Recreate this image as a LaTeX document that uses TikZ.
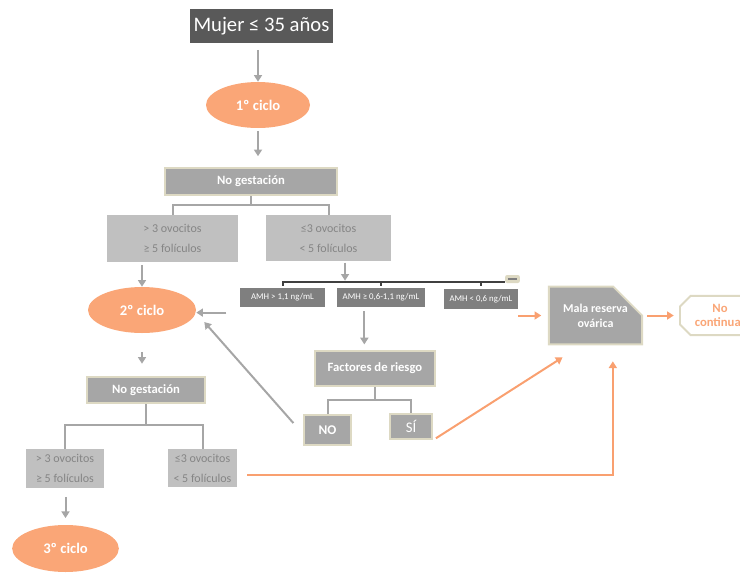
\documentclass[tikz,border=0pt]{standalone}
\usepackage{fontspec}
\setmainfont{Carlito}
\usepackage{tikz}
\usetikzlibrary{arrows.meta,shapes.geometric,shapes.misc,calc}
\definecolor{mujergray}{HTML}{595959}
\definecolor{cicloorange}{HTML}{FAA677}
\definecolor{boxgray}{HTML}{A6A6A6}
\definecolor{tanline}{HTML}{DDD9C3}
\definecolor{lightbox}{HTML}{C0C0C0}
\definecolor{lighttext}{HTML}{858585}
\definecolor{amhgray}{HTML}{7F7F7F}
\definecolor{bargray}{HTML}{404040}
\definecolor{arrowgray}{HTML}{A6A6A6}
\definecolor{orangeline}{HTML}{F9A070}
\tikzset{
  startbox/.style={
    shape = rectangle,
    fill = mujergray,
    text = white,
    inner sep = 0pt,
    font = \fontsize{15.5}{18}\selectfont
  },
  ciclo/.style={
    shape = ellipse,
    fill = cicloorange,
    text = white,
    inner sep = 0pt,
    minimum width = 78pt,
    minimum height = 34.5pt,
    font = \bfseries\fontsize{11}{12}\selectfont
  },
  gestbox/.style={
    shape = rectangle,
    fill = boxgray,
    draw = tanline,
    line width = 1.4pt,
    text = white,
    inner sep = 0pt,
    align = center,
    font = \bfseries\fontsize{9.5}{11}\selectfont
  },
  critbox/.style={
    shape = rectangle,
    fill = lightbox,
    text = lighttext,
    inner sep = 0pt,
    align = center,
    font = \fontsize{9}{15}\selectfont
  },
  amhbox/.style={
    shape = rectangle,
    fill = amhgray,
    text = white,
    inner sep = 0pt,
    font = \fontsize{6.6}{8}\selectfont
  },
  arr/.style={
    draw = arrowgray,
    line width = 1.5pt,
    -{Triangle[width=6pt,length=5pt]}
  },
  oarr/.style={
    draw = orangeline,
    line width = 1.5pt,
    -{Triangle[width=6pt,length=5pt]}
  },
  brace/.style={
    draw = arrowgray,
    line width = 1.5pt
  },
  darkbar/.style={
    draw = bargray,
    line width = 1.5pt
  }
}

\begin{document}
\begin{tikzpicture}[x=0.75pt,y=-0.75pt]
        \useasboundingbox (0,0) rectangle (740,572);

        % first cycle
        \node[startbox, minimum width=107.25pt, minimum height=25.5pt] (mujer) at (261.5,26) {Mujer ≤ 35 años};
        \node[ciclo] (ciclo1) at (258,105) {1º ciclo};
        \node[gestbox, minimum width=129pt, minimum height=20.5pt] (gest1) at (251,181.5) {No gestación};
        \node[critbox, minimum width=98.25pt, minimum height=35.25pt] (alto1) at (172.5,238.5) {> 3 ovocitos\\≥ 5 folículos};
        \node[critbox, minimum width=93.75pt, minimum height=34.5pt] (bajo1) at (328.5,238) {≤3 ovocitos\\< 5 folículos};

        % AMH
        \node[amhbox, minimum width=63.75pt, minimum height=14.25pt] (amh1) at (282.5,297.5) {AMH > 1,1 ng/mL};
        \node[amhbox, minimum width=66pt, minimum height=14.25pt] (amh2) at (381,297.5) {AMH ≥ 0,6-1,1 ng/mL};
        \node[amhbox, minimum width=55.5pt, minimum height=15pt] (amh3) at (481,299) {AMH < 0,6 ng/mL};
        \node[shape=rectangle, rounded corners=1.5pt, fill=tanline, inner sep=0pt, minimum width=11pt, minimum height=6pt] (collapse) at (512.5,279) {};
        \coordinate (barL) at (282,282);

        \node[gestbox, shape=chamfered rectangle, chamfered rectangle corners=north east, chamfered rectangle xsep=13pt, chamfered rectangle ysep=13pt, minimum width=70pt, minimum height=29.5pt, font=\bfseries\fontsize{9}{11}\selectfont] (mala) at (595.5,315.5) {Mala reserva\\ovárica};
        \node[gestbox, fill=white, text=cicloorange, shape=chamfered rectangle, chamfered rectangle corners={north west,south west}, chamfered rectangle xsep=4pt, chamfered rectangle ysep=4pt, minimum width=60pt, minimum height=29.5pt, font=\bfseries\fontsize{9.5}{11}\selectfont] (nocont) at (720,315.5) {No\\continuar};

        \node[gestbox, minimum width=90.5pt, minimum height=26.75pt] (riesgo) at (375,368.5) {Factores de riesgo};
        \node[gestbox, minimum width=35.75pt, minimum height=23pt, font=\bfseries\fontsize{10}{12}\selectfont] (no) at (327.5,430) {NO};
        \node[gestbox, minimum width=32pt, minimum height=19.25pt, font=\fontsize{11}{12}\selectfont] (si) at (411,426.5) {SÍ};

        % second cycle
        \node[ciclo, minimum width=81pt] (ciclo2) at (142,310) {2º ciclo};
        \node[gestbox, minimum width=89pt, minimum height=20pt] (gest2) at (146,390) {No gestación};
        \node[critbox, minimum width=58.5pt, minimum height=29.25pt] (alto2) at (65,468.5) {> 3 ovocitos\\≥ 5 folículos};
        \node[critbox, minimum width=51.75pt, minimum height=28.5pt] (bajo2) at (202.5,468) {≤3 ovocitos\\< 5 folículos};
        \node[ciclo, minimum width=80pt, minimum height=35.25pt] (ciclo3) at (65.5,548.5) {3º ciclo};

        % connectors
        \draw[arr, shorten <=5pt] (mujer.south -| ciclo1.north) -- (ciclo1.north);
        \draw[arr, shorten <=2pt, shorten >=8pt] (ciclo1.south) -- (ciclo1.south |- gest1.north);
        \draw[brace] (gest1.south) -- ++(0,9) coordinate (gest1m);
        \draw[brace] (alto1.north) |- (gest1m) -| (bajo1.north);
        \draw[arr, shorten <=2pt] (alto1.south -| ciclo2.north) -- (ciclo2.north);
        \draw[arr, shorten <=1pt, shorten >=1pt] ([xshift=12.4pt]bajo1.south) -- ([xshift=12.4pt]bajo1.south |- barL);

        \draw[darkbar] (barL) -- (collapse.west |- barL);
        \draw[darkbar] (amh1.north |- barL) -- ++(0,4);
        \draw[darkbar] (amh2.north |- barL) -- ++(0,4);
        \draw[darkbar] (amh3.north |- barL) -- ++(0,4);
        \draw[line width=1pt, draw=amhgray] ([xshift=-3.5pt]collapse.center) -- ([xshift=3.5pt]collapse.center);

        \draw[arr, shorten <=3pt, shorten >=4pt] ([xshift=-8pt]riesgo.north |- amh2.south) -- ([xshift=-8pt]riesgo.north);
        \draw[brace] (riesgo.south) -- ++(0,13) coordinate (riesgom);
        \draw[brace] (no.north) |- (riesgom) -| (si.north);

        \draw[oarr, shorten >=5pt] (amh3.south east |- mala.west) -- (mala.west);
        \draw[oarr, shorten <=3pt, shorten >=4pt] (mala.east) -- (nocont.west);
        \draw[oarr] ([shift={(2pt,1.5pt)}]si.south east) -- ([shift={(11pt,-9pt)}]mala.south west);
        \draw[oarr] ([shift={(7.5pt,-5pt)}]bajo2.east) -| ([xshift=13pt,yshift=-12pt]mala.south);

        \draw[arr] ([shift={(-10pt,-4pt)}]amh1.south west) coordinate (h0) -- (h0 -| ciclo2.east);
        \draw[arr] ([shift={(-7pt,-7pt)}]no.north west) -- ([shift={(6pt,-9pt)}]ciclo2.east);

        \draw[arr, shorten <=14pt, shorten >=9pt] (ciclo2.south) -- (ciclo2.south |- gest2.north);
        \draw[brace] (gest2.south) -- ++(0,21) coordinate (gest2m);
        \draw[brace] (alto2.north) |- (gest2m) -| (bajo2.north);
        \draw[arr, shorten <=6.5pt, shorten >=5pt] (alto2.south -| ciclo3.north) -- (ciclo3.north);
\end{tikzpicture}
\end{document}
